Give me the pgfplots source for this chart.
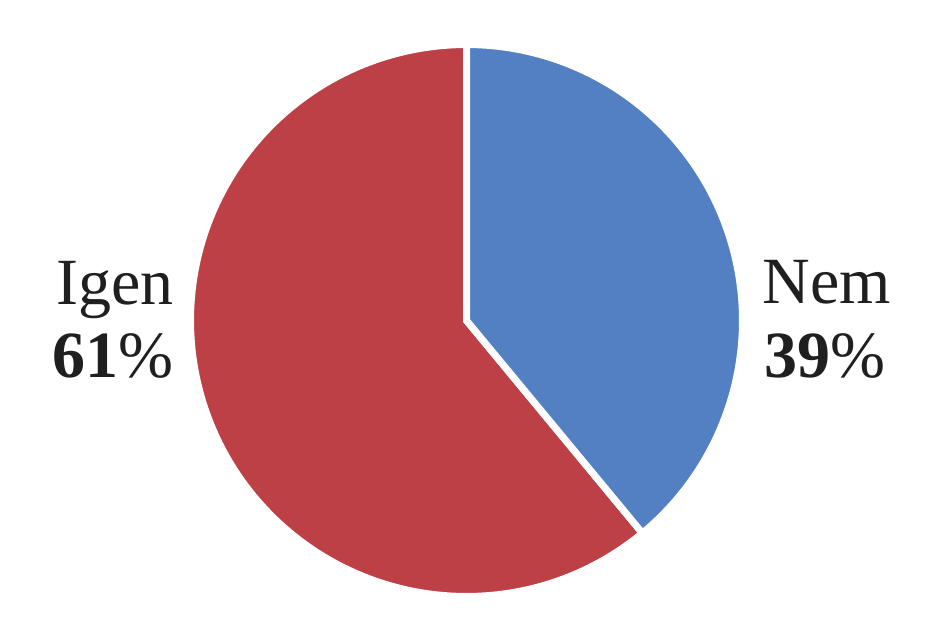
\documentclass[border=0pt]{standalone}
\usepackage{pgfplots}
\pgfplotsset{compat=1.18}
\usepackage{fontspec}
\setmainfont{Liberation Serif}
\definecolor{nemblue}{HTML}{5280C2}
\definecolor{igenred}{HTML}{BD4047}
\begin{document}
\begin{tikzpicture}
\def\cx{466.5}
\def\cy{320.5}
\def\R{276}
\def\nem{39}
\def\igen{61}
\pgfmathsetmacro\A{\nem*3.6}
\begin{axis}[
  scale only axis, width=467pt, height=310pt,
  xmin=0, xmax=934, ymin=0, ymax=620, y dir=reverse,
  hide axis, clip=false,
]
\path (axis cs:0,0) rectangle (axis cs:934,620);
\addplot[fill=igenred, draw=white, line width=3.5pt, line join=miter, domain=\A:360, samples=150, variable=\t]
  ({\cx+\R*sin(\t)},{\cy-\R*cos(\t)}) -- (axis cs:\cx,\cy) -- cycle;
\addplot[fill=nemblue, draw=white, line width=3.5pt, line join=miter, domain=0:\A, samples=100, variable=\t]
  ({\cx+\R*sin(\t)},{\cy-\R*cos(\t)}) -- (axis cs:\cx,\cy) -- cycle;
\node[anchor=base east, inner sep=0pt, text=black!88, font=\fontsize{33}{40}\selectfont] at (axis cs:174,305) {Igen};
\node[anchor=base east, inner sep=0pt, text=black!88, font=\fontsize{33}{40}\selectfont] at (axis cs:174,378) {{\bfseries\igen}\%};
\node[anchor=base west, inner sep=0pt, text=black!88, font=\fontsize{33}{40}\selectfont] at (axis cs:762,304) {Nem};
\node[anchor=base west, inner sep=0pt, text=black!88, font=\fontsize{33}{40}\selectfont] at (axis cs:764,378) {{\bfseries\nem}\%};
\end{axis}
\end{tikzpicture}
\end{document}
